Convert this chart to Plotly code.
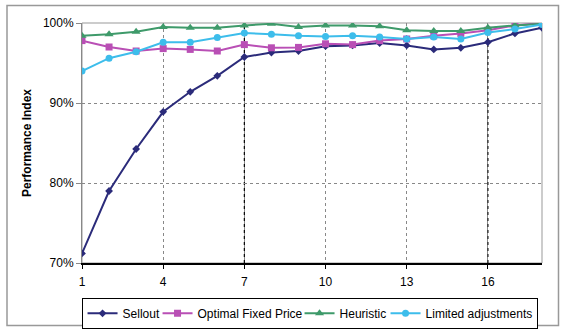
import plotly.graph_objects as go

periods = list(range(1, 19))
sellout = [71.2, 79.0, 84.25, 88.9, 91.4, 93.4, 95.75, 96.3, 96.5, 97.1, 97.2, 97.5, 97.2, 96.7, 96.9, 97.6, 98.7, 99.4]
optimal_fixed = [97.8, 97.0, 96.5, 96.8, 96.7, 96.5, 97.3, 96.9, 96.95, 97.4, 97.3, 97.8, 98.0, 98.4, 98.7, 99.1, 99.7, 100.0]
heuristic = [98.4, 98.6, 98.9, 99.5, 99.4, 99.4, 99.7, 99.9, 99.5, 99.7, 99.7, 99.6, 99.1, 99.0, 99.0, 99.4, 99.7, 99.9]
limited_adj = [94.0, 95.6, 96.4, 97.6, 97.6, 98.2, 98.75, 98.6, 98.4, 98.3, 98.4, 98.25, 98.0, 98.25, 98.0, 98.8, 99.25, 99.8]
x_ticks = [1, 4, 7, 10, 13, 16]
y_ticks = [70, 80, 90, 100]
y_tick_labels = ["70%", "80%", "90%", "100%"]
highlight_x = [7, 16]

series = [
    ("Sellout", sellout, "#2B2B7A", "diamond", 6, 30),
    ("Optimal Fixed Price", optimal_fixed, "#B94FB5", "square", 7, 97),
    ("Heuristic", heuristic, "#3E9A6A", "triangle-up", 8, 41),
    ("Limited adjustments", limited_adj, "#3DBDEB", "circle", 7, 106),
]

fig = go.Figure()
for name, vals, color, sym, size, lw in series:
    fig.add_trace(go.Scatter(
        x=periods, y=vals, name=name, mode="lines+markers",
        line=dict(color=color, width=2),
        marker=dict(symbol=sym, size=size, color=color),
        legendwidth=lw,
    ))

font = "Liberation Sans, Arial, sans-serif"
fig.update_layout(
    width=563, height=329,
    margin=dict(l=82, r=21, t=23, b=66, autoexpand=False),
    paper_bgcolor="white", plot_bgcolor="white",
    font=dict(family=font, size=12, color="black"),
    showlegend=True,
    legend=dict(
        orientation="h", x=-0.001, xanchor="left", y=-0.145, yanchor="top",
        bordercolor="black", borderwidth=1, bgcolor="white",
        font=dict(size=12), itemwidth=30, tracegroupgap=0,
    ),
    xaxis=dict(
        range=[1, 18], tickvals=x_ticks, showgrid=True,
        gridcolor="#888888", griddash="dot", gridwidth=1,
        showline=True, linecolor="black", linewidth=1.5,
        ticks="outside", ticklen=4, tickcolor="black",
        ticklabelstandoff=3,
        zeroline=False, fixedrange=True,
    ),
    yaxis=dict(
        range=[70, 100], tickvals=y_ticks, ticktext=y_tick_labels,
        showgrid=True, gridcolor="#888888", griddash="dot", gridwidth=1,
        showline=True, linecolor="#888888", linewidth=1,
        ticks="outside", ticklen=5, tickcolor="#888888",
        zeroline=False,
        title=dict(text="<b>Performance Index</b>", standoff=8, font=dict(size=12)),
    ),
)

# plot area border (top and right)
fig.add_shape(type="rect", xref="paper", yref="paper", x0=0, x1=1, y0=0, y1=1,
              line=dict(color="#999999", width=1), layer="between")
# highlighted vertical lines
for hx in highlight_x:
    fig.add_shape(type="line", xref="x", yref="paper", x0=hx, x1=hx, y0=0, y1=1,
                  line=dict(color="black", width=1.2, dash="dot"), layer="between")
# outer chart border
fig.add_shape(type="rect", xref="paper", yref="paper",
              x0=(7 - 82) / 460, x1=(558.5 - 82) / 460,
              y0=(263 - 325.5) / 240, y1=(263 - 5.5) / 240,
              line=dict(color="#999999", width=1.5), layer="below")

fig.write_html("out.html")
